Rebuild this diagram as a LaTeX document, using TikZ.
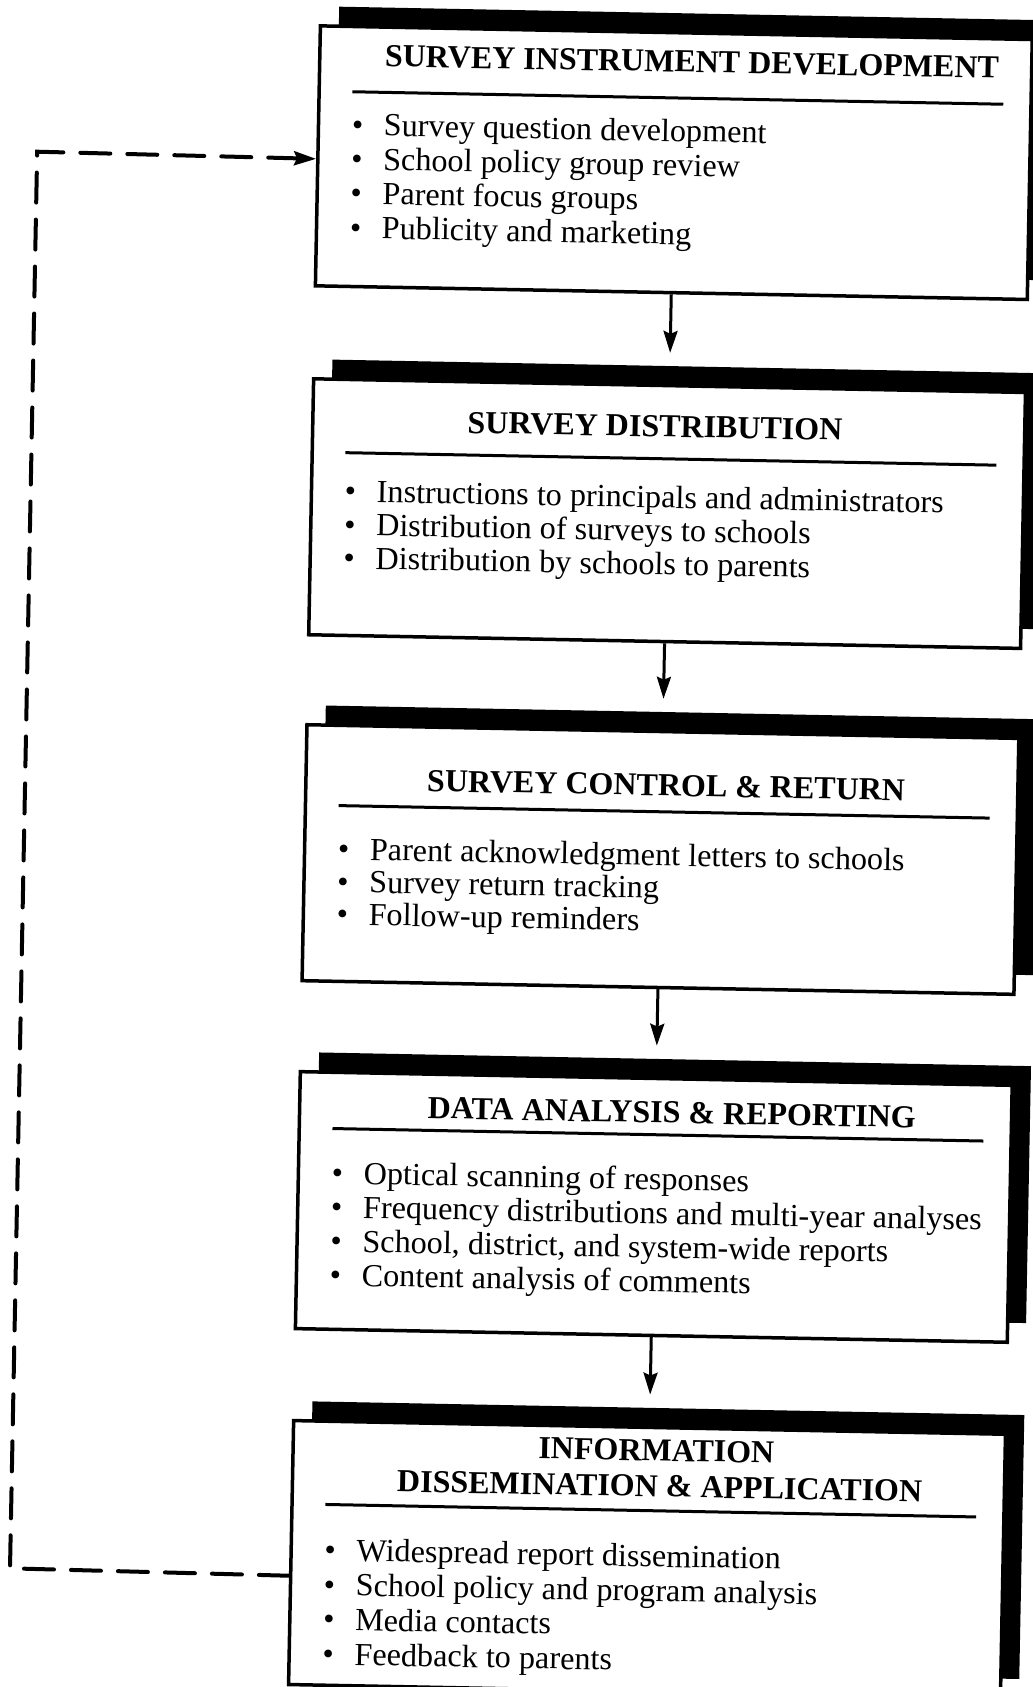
\documentclass[tikz,border=0pt]{standalone}
\usepackage{fontspec}
\setmainfont{Liberation Serif}
\usetikzlibrary{arrows.meta,calc}
\tikzset{
  stagebox/.style={draw, fill=white, line width=3.5pt, inner sep=0pt, minimum width=712pt, anchor=north west},
  shadebox/.style={fill=black, draw=none, inner sep=0pt, minimum width=712pt, anchor=north west},
  ttl/.style={font=\bfseries\fontsize{32}{36}\selectfont, inner sep=0pt, anchor=base},
  itm/.style={font=\fontsize{32.2}{#1}\selectfont, inner sep=0pt, anchor=base west},
  rulel/.style={line width=3pt},
  flow/.style={line width=3pt, -{Stealth[length=22pt,width=14pt,inset=3pt]}, shorten >=31pt},
  back/.style={line width=4pt, line cap=round, dash pattern=on 30pt off 17pt, -{Stealth[length=22pt,width=14pt,inset=3pt]}},
}
\newcommand\bul{\makebox[32pt][l]{\textbullet}}
\newcommand\blist[1]{\begin{tabular}[t]{@{}l@{}}#1\end{tabular}}
\begin{document}
\begin{tikzpicture}[x=1pt,y=-1pt]
\useasboundingbox (0,0) rectangle (1033,1687);
\clip (0,0) rectangle (1033,1687);
\begin{scope}[rotate around={-1.1:(516,843)}, transform shape]
% shadows
\node[shadebox, minimum height=260pt] (s1) at (323,10) {};
\node[shadebox, minimum height=256pt] (s2) at (323,363) {};
\node[shadebox, minimum height=256pt] (s3) at (323,709) {};
\node[shadebox, minimum height=257pt] (s4) at (323,1056) {};
\node[shadebox, minimum height=264pt] (s5) at (323,1405) {};
% boxes
\node[stagebox, minimum height=260pt] (b1) at (303,28) {};
\node[stagebox, minimum height=256pt] (b2) at (303,381) {};
\node[stagebox, minimum height=256pt] (b3) at (303,727) {};
\node[stagebox, minimum height=257pt] (b4) at (303,1074) {};
\node[stagebox, minimum height=264pt] (b5) at (303,1423) {};
% box 1
\node[ttl] (t1) at (677,69) {SURVEY INSTRUMENT DEVELOPMENT};
\draw[rulel] (338,95) -- (989,95);
\node[itm=34.3] (l1) at (338,138.5) {\blist{\bul Survey question development\\
  \bul School policy group review\\
  \bul Parent focus groups\\
  \bul Publicity and marketing}};
% box 2
\node[ttl] (t2) at (647,434) {SURVEY DISTRIBUTION};
\draw[rulel] (338,456) -- (989,456);
\node[itm=33.5] (l2) at (338,505) {\blist{\bul Instructions to principals and administrators\\
  \bul Distribution of surveys to schools\\
  \bul Distribution by schools to parents}};
% box 3
\node[ttl] (t3) at (665,793) {SURVEY CONTROL \& RETURN};
\draw[rulel] (338,809) -- (989,809);
\node[itm=32.5] (l3) at (338,863) {\blist{\bul Parent acknowledgment letters to schools\\
  \bul Survey return tracking\\
  \bul Follow-up reminders}};
% box 4
\node[ttl] (t4) at (677,1120) {DATA ANALYSIS \& REPORTING};
\draw[rulel] (338,1132) -- (989,1132);
\node[itm=34] (l4) at (338,1187) {\blist{\bul Optical scanning of responses\\
  \bul Frequency distributions and multi-year analyses\\
  \bul School, district, and system-wide reports\\
  \bul Content analysis of comments}};
% box 5
\node[ttl] (t5a) at (668,1458) {INFORMATION};
\node[ttl] (t5b) at (672,1494) {DISSEMINATION \& APPLICATION};
\draw[rulel] (338,1508) -- (989,1508);
\node[itm=34.7] (l5) at (338,1564) {\blist{\bul Widespread report dissemination\\
  \bul School policy and program analysis\\
  \bul Media contacts\\
  \bul Feedback to parents}};
% flow arrows
\draw[flow] (b1.south) -- (b2.north);
\draw[flow] (b2.south) -- (b3.north);
\draw[flow] (b3.south) -- (b4.north);
\draw[flow] (b4.south) -- (b5.north);
% feedback loop
\coordinate (c1) at (24,1578);
\coordinate (c2) at (24,161);
\draw[back] ($(b5.north west)!0.5871!(b5.south west)$) -- (c1) -- (c2) -- ($(b1.north west)!0.5115!(b1.south west)$);
\end{scope}
\end{tikzpicture}
\end{document}
